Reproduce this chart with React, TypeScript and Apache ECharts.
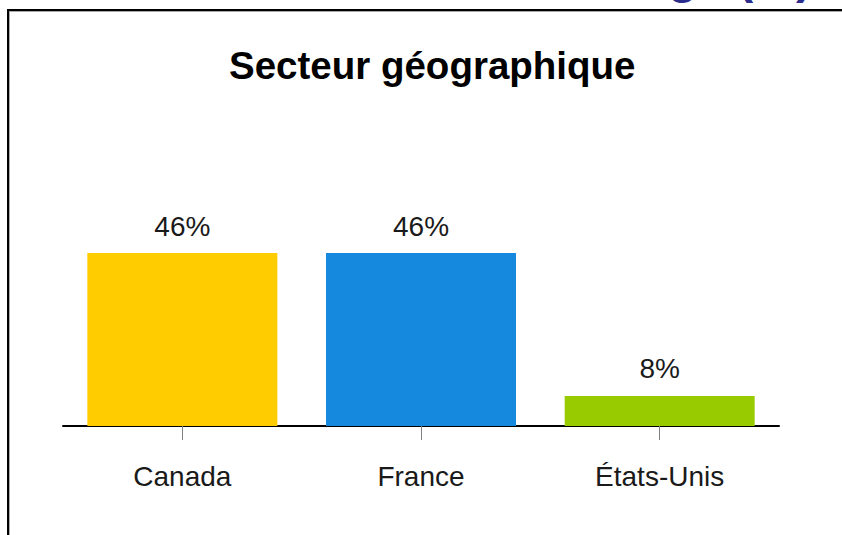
import React, { useEffect, useRef } from "react";
import * as echarts from "echarts";

const categories = ["Canada", "France", "États-Unis"];
const values = [46, 46, 8];
const barColors = ["#FFCC00", "#1589DD", "#99CC00"];
const chartTitle = "Secteur géographique";
const slideTitle = "Ventilation selon l'âge (%)";

export default function App() {
  const ref = useRef<HTMLDivElement>(null);
  useEffect(() => {
    if (!ref.current) return;
    const chart = echarts.init(ref.current, null, { renderer: "svg" });
    chart.setOption({
      animation: false,
      backgroundColor: "#ffffff",
      title: {
        text: chartTitle,
        left: 224,
        top: 41,
        textStyle: {
          fontFamily: "Liberation Sans, Arial, sans-serif",
          fontSize: 38.5,
          fontWeight: "bold",
          color: "#000000",
        },
      },
      grid: { left: 63, right: 63, top: 238, bottom: 109, containLabel: false },
      xAxis: {
        type: "category",
        data: categories,
        axisLine: { show: true, lineStyle: { color: "#000000", width: 2 } },
        axisTick: { show: true, alignWithLabel: true, length: 14, lineStyle: { color: "#808080", width: 1 } },
        axisLabel: {
          margin: 36,
          fontFamily: "Liberation Sans, Arial, sans-serif",
          fontSize: 28,
          color: "#1a1a1a",
        },
      },
      yAxis: { type: "value", min: 0, max: 50, show: false },
      series: [
        {
          type: "bar",
          barWidth: 190,
          data: values.map((v, i) => ({ value: v, itemStyle: { color: barColors[i] } })),
          label: {
            show: true,
            position: "top",
            distance: 13,
            formatter: "{c}%",
            fontFamily: "Liberation Sans, Arial, sans-serif",
            fontSize: 28,
            color: "#1a1a1a",
          },
        },
      ],
      graphic: [
        {
          type: "text",
          right: 30,
          top: -48,
          style: {
            text: slideTitle,
            font: "bold 48px 'Liberation Sans', Arial, sans-serif",
            fill: "#2A2C8C",
          },
        },
        { type: "line", shape: { x1: 8, y1: 10, x2: 842, y2: 10 }, style: { stroke: "#000", lineWidth: 2 } },
        { type: "line", shape: { x1: 9, y1: 11.5, x2: 842, y2: 11.5 }, style: { stroke: "#aaa", lineWidth: 1 } },
        { type: "line", shape: { x1: 8, y1: 9, x2: 8, y2: 535 }, style: { stroke: "#000", lineWidth: 2 } },
        { type: "line", shape: { x1: 9.5, y1: 11, x2: 9.5, y2: 535 }, style: { stroke: "#aaa", lineWidth: 1 } },
      ],
    });
    return () => chart.dispose();
  }, []);
  return (
    <div
      ref={ref}
      style={{ position: "absolute", left: 0, top: 0, width: 842, height: 535 }}
    />
  );
}
